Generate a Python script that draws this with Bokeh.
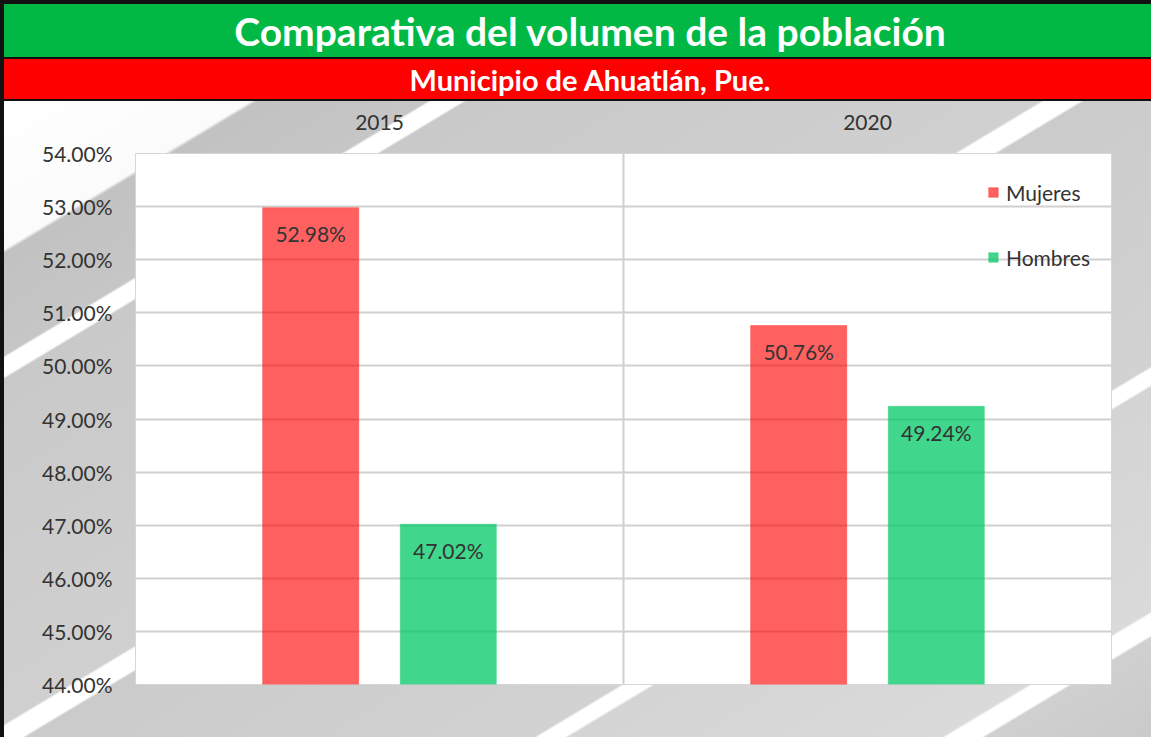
from bokeh.plotting import figure
from bokeh.layouts import column
from bokeh.models import FixedTicker, PrintfTickFormatter, Range1d, ColumnDataSource
from bokeh.core.properties import value
from bokeh.embed import file_html
from bokeh.resources import INLINE

# ---------------- data ----------------
title_text = "Comparativa del volumen de la población"
subtitle_text = "Municipio de Ahuatlán, Pue."
categories = ["2015", "2020"]
mujeres = [52.98, 50.76]
hombres = [47.02, 49.24]
series_names = ["Mujeres", "Hombres"]
y_ticks = [44, 45, 46, 47, 48, 49, 50, 51, 52, 53, 54]

# ---------------- styling ----------------
FONT = "Lato"
W = 1147
ML, MR = 131, 40
BANNER_CENTER = 586
GREEN_BANNER = "#00B843"
RED_BANNER = "#FF0000"
TEXT_COL = "#333333"
GRID_COL = "#D0D0D0"
COL_M = "#FF0000"
COL_H = "#00C864"


def banner(text, height, bg, size):
    # column layouts align frames, so give the banner the same borders and
    # a pixel-based x range (data x == screen x)
    b = figure(width=W, height=height, x_range=Range1d(ML, W - MR), y_range=Range1d(0, 1),
               toolbar_location=None, output_backend="svg",
               min_border_left=ML, min_border_right=MR, min_border_top=0, min_border_bottom=0,
               styles={"background": bg})
    b.axis.visible = False
    b.grid.visible = False
    b.outline_line_color = None
    b.background_fill_color = None
    b.border_fill_color = None
    b.text(x=[BANNER_CENTER], y=[0.5], text=[text], text_align="center", text_baseline="middle",
           text_color="white", text_font=value(FONT), text_font_style="bold",
           text_font_size=size)
    return b


top = banner(title_text, 53, GREEN_BANNER, "39px")
sub = banner(subtitle_text, 40, RED_BANNER, "29px")

# ---------------- main chart ----------------
stripes = ("linear-gradient(149deg, #ffffff 0%, #fbfbfb 11.2%, #c2c2c2 11.5%, #c6c6c6 19.2%, "
           "#ffffff 19.4%, #ffffff 20.8%, #c9c9c9 21%, #d0d0d0 47%, #ffffff 47.2%, #ffffff 48.8%, "
           "#cbcbcb 49%, #d2d2d2 72%, #ffffff 72.2%, #ffffff 73.4%, #d4d4d4 73.6%, #dadada 90.5%, "
           "#ffffff 90.7%, #ffffff 92.3%, #d0d0d0 92.5%, #cacaca 100%)")

p = figure(width=W, height=636, x_range=Range1d(0, len(categories)),
           y_range=Range1d(y_ticks[0], y_ticks[-1]), x_axis_location="above",
           toolbar_location=None, output_backend="svg",
           min_border_left=ML, min_border_right=MR, min_border_top=52, min_border_bottom=53,
           styles={"background": stripes})
p.border_fill_color = None
p.background_fill_color = "white"
p.outline_line_color = "#D6D6D6"
p.outline_line_width = 1

centers = [i + 0.5 for i in range(len(categories))]
offset = 0.141
bar_w = 0.197
base = y_ticks[0]

src = ColumnDataSource(dict(
    xm=[c - offset for c in centers], xh=[c + offset for c in centers],
    m=mujeres, h=hombres, b=[base] * len(categories),
    lm=[f"{v:.2f}%" for v in mujeres], lh=[f"{v:.2f}%" for v in hombres],
))

p.vbar(x="xm", top="m", bottom="b", width=bar_w, source=src, fill_color=COL_M, fill_alpha=0.62,
       line_color=COL_M, line_alpha=0.3, legend_label=series_names[0])
p.vbar(x="xh", top="h", bottom="b", width=bar_w, source=src, fill_color=COL_H, fill_alpha=0.75,
       line_color=COL_H, line_alpha=0.3, legend_label=series_names[1])

for xcol, ycol, lcol in (("xm", "m", "lm"), ("xh", "h", "lh")):
    p.text(x=xcol, y=ycol, text=lcol, source=src, text_align="center", text_baseline="middle",
           y_offset=26, text_color=TEXT_COL, text_font=value(FONT), text_font_size="21px")

# axes
p.yaxis.ticker = FixedTicker(ticks=y_ticks)
p.yaxis.formatter = PrintfTickFormatter(format="%.2f%%")
p.xaxis.ticker = FixedTicker(ticks=centers)
p.xaxis.major_label_overrides = {c: lab for c, lab in zip(centers, categories)}
for ax in (p.xaxis, p.yaxis):
    ax.axis_line_color = None
    ax.major_tick_line_color = None
    ax.minor_tick_line_color = None
    ax.major_label_text_font = FONT
    ax.major_label_text_font_size = "21px"
    ax.major_label_text_color = TEXT_COL
p.yaxis.major_label_standoff = 17
p.xaxis.major_label_standoff = 18

# grid
p.ygrid.ticker = FixedTicker(ticks=y_ticks)
p.ygrid.grid_line_color = GRID_COL
p.ygrid.grid_line_width = 2
p.xgrid.ticker = FixedTicker(ticks=list(range(1, len(categories))))
p.xgrid.grid_line_color = GRID_COL
p.xgrid.grid_line_width = 2

# legend
lg = p.legend[0]
lg.location = "top_right"
lg.background_fill_alpha = 0
lg.border_line_alpha = 0
lg.margin = 16
lg.padding = 5
lg.label_height = 36
lg.spacing = 29
lg.glyph_width = 12
lg.glyph_height = 12
lg.label_standoff = 7
lg.label_text_font = FONT
lg.label_text_font_size = "21px"
lg.label_text_color = TEXT_COL

layout = column(top, sub, p, spacing=2,
                styles={"border-left": "4px solid #111111", "border-top": "4px solid #111111",
                        "background-color": "#111111"})

open("out.html", "w").write(file_html(layout, INLINE))
